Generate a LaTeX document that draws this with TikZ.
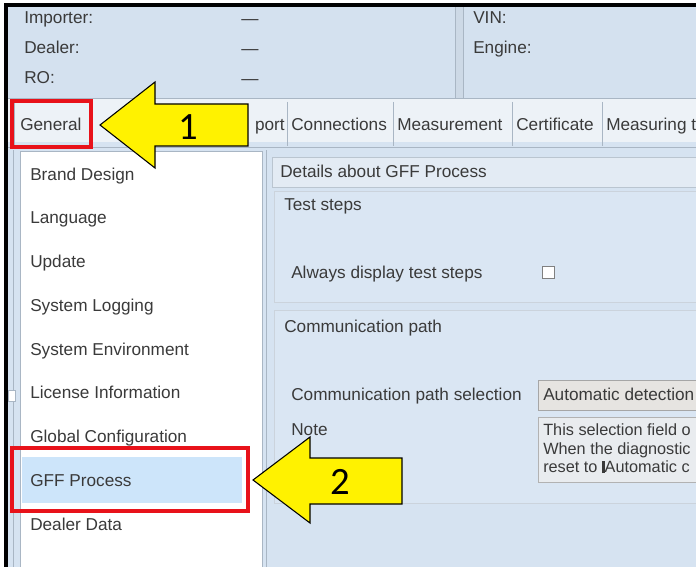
\documentclass[tikz,border=0pt]{standalone}
\usepackage{fontspec}
\setmainfont{Liberation Sans}
\newfontfamily\numfont{Carlito}
\definecolor{hdrblue}{HTML}{D4E1EF}
\definecolor{bgblue}{HTML}{D6E3F1}
\definecolor{grpblue}{HTML}{DAE6F3}
\definecolor{tabbg}{HTML}{EDF2F7}
\definecolor{uiline}{HTML}{A9B6C4}
\definecolor{uitext}{HTML}{3A3A3A}
\definecolor{hilite}{HTML}{CDE5FA}
\definecolor{markred}{HTML}{E8121A}
\definecolor{ddgrey}{HTML}{E6E4E1}
\definecolor{notegrey}{HTML}{E9ECEF}
\definecolor{barblue}{HTML}{E3EBF4}
\begin{document}
\begin{tikzpicture}[x=0.75pt,y=-0.75pt,
  ui/.style={font=\fontsize{12.9}{14}\selectfont, text=uitext, inner sep=0pt, anchor=west, text height=10.4pt, text depth=1.6pt},
  uis/.style={font=\fontsize{12.2}{14}\selectfont, text=uitext, inner sep=0pt, anchor=west, text height=9.8pt, text depth=1.6pt},
  redbox/.style={draw=markred, line width=2.4pt},
  callout/.style={fill=yellow, draw=black, line width=0.8pt, line join=miter},
  num/.style={font=\numfont\fontsize{29}{30}\selectfont, inner sep=0pt, text=black},
  sep/.style={draw=uiline, line width=0.6pt}]
\useasboundingbox (0,0) rectangle (696,567);
\clip (0,0) rectangle (696,567);
\fill[white] (0,0) rectangle (696,567);
% header panels
\fill[hdrblue] (8,7) rectangle (455,98);
\fill[hdrblue!92!gray] (455,7) rectangle (463,98);
\fill[hdrblue] (463,7) rectangle (696,98);
\draw[sep] (455,7) -- (455,98);
\draw[sep] (463,7) -- (463,98);
\draw[sep] (8,98) -- (696,98);
\node[ui] (imp) at (24,18) {Importer:};
\node[ui] (dea) at (24,48) {Dealer:};
\node[ui] (ro) at (24,78) {RO:};
\node[ui, anchor=center] (d1) at (250,19) {—};
\node[ui, anchor=center] (d2) at (250,49) {—};
\node[ui, anchor=center] (d3) at (250,79) {—};
\node[ui] (vin) at (473,18) {VIN:};
\node[ui] (eng) at (473,48) {Engine:};
% tab bar
\fill[tabbg] (8,99) rectangle (696,147);
\fill[bgblue] (8,142) rectangle (696,147);
\draw[sep] (14,102) -- (14,146);
\draw[sep] (92,102) -- (92,146);
\draw[sep] (287,102) -- (287,146);
\draw[sep] (393,102) -- (393,146);
\draw[sep] (512,102) -- (512,146);
\draw[sep] (602,102) -- (602,146);
\node[ui] (tgen) at (20,125) {General};
\node[ui, anchor=east] (tsup) at (285,125) {port};
\node[ui] (tcon) at (291,125) {Connections};
\node[ui] (tmea) at (397,125) {Measurement};
\node[ui] (tcer) at (516,125) {Certificate};
\node[ui] (tmet) at (606,125) {Measuring t};
% content area
\fill[bgblue] (8,147) rectangle (696,567);
\draw[sep] (8,147) -- (696,147);
\draw[sep] (13,150) -- (13,567);
\draw[sep] (266,150) -- (266,567);
\draw[draw=uiline, fill=white, line width=0.6pt] (20,151) rectangle (262,570);
\draw[draw=uiline, fill=white, line width=0.6pt] (8,390) rectangle (15,401);
% list
\fill[hilite] (22,457) rectangle (242,503);
\node[ui] (l1) at (30,175) {Brand Design};
\node[ui] (l2) at (30,218) {Language};
\node[ui] (l3) at (30,262) {Update};
\node[ui] (l4) at (30,306) {System Logging};
\node[ui] (l5) at (30,350) {System Environment};
\node[ui] (l6) at (30,393) {License Information};
\node[ui] (l7) at (30,437) {Global Configuration};
\node[ui] (l8) at (30,481) {GFF Process};
\node[ui] (l9) at (30,525) {Dealer Data};
% right panel
\draw[draw=uiline!80, fill=barblue, line width=0.6pt] (272,157) rectangle (700,187);
\node[ui] (det) at (280,172) {Details about GFF Process};
\draw[draw=uiline!60, fill=grpblue, line width=0.5pt] (274,191) rectangle (700,302);
\node[ui] (ts) at (284,205) {Test steps};
\node[ui] (ads) at (291,273) {Always display test steps};
\draw[draw=gray, fill=white, line width=0.6pt] (542,266) rectangle (554,278);
\draw[draw=uiline!60, fill=grpblue, line width=0.5pt] (274,310) rectangle (700,503);
\node[ui] (cp) at (284,327) {Communication path};
\node[ui] (cps) at (291,395) {Communication path selection};
\draw[draw=gray!70, fill=ddgrey, line width=0.6pt] (538,380) rectangle (700,410);
\node[ui] (auto) at (543,395) {Automatic detection};
\node[ui] (note) at (291,430) {Note};
\draw[draw=gray!60, fill=notegrey, line width=0.6pt] (538,417) rectangle (700,482);
\node[uis] (n1) at (543,430) {This selection field o};
\node[uis] (n2) at (543,449) {When the diagnostic};
\node[uis] (n3) at (543,467) {reset to \rule[-0.5pt]{2pt}{9pt}Automatic c};
% black frame
\draw[black, line width=3pt] (5.5,570) -- (5.5,5.5) -- (700,5.5);
% red markers
\draw[redbox] (12,101) rectangle (91,147);
\draw[redbox] (12,448) rectangle (248,511);
% callout arrows
\draw[callout] (100,125) -- (155,82) -- (155,104) -- (248,104) -- (248,146) -- (155,146) -- (155,168) -- cycle;
\node[num] (c1) at (188,127) {1};
\draw[callout] (253,480) -- (310,437) -- (310,458) -- (402,458) -- (402,504) -- (310,504) -- (310,523) -- cycle;
\node[num] (c2) at (340,482) {2};
\end{tikzpicture}
\end{document}
